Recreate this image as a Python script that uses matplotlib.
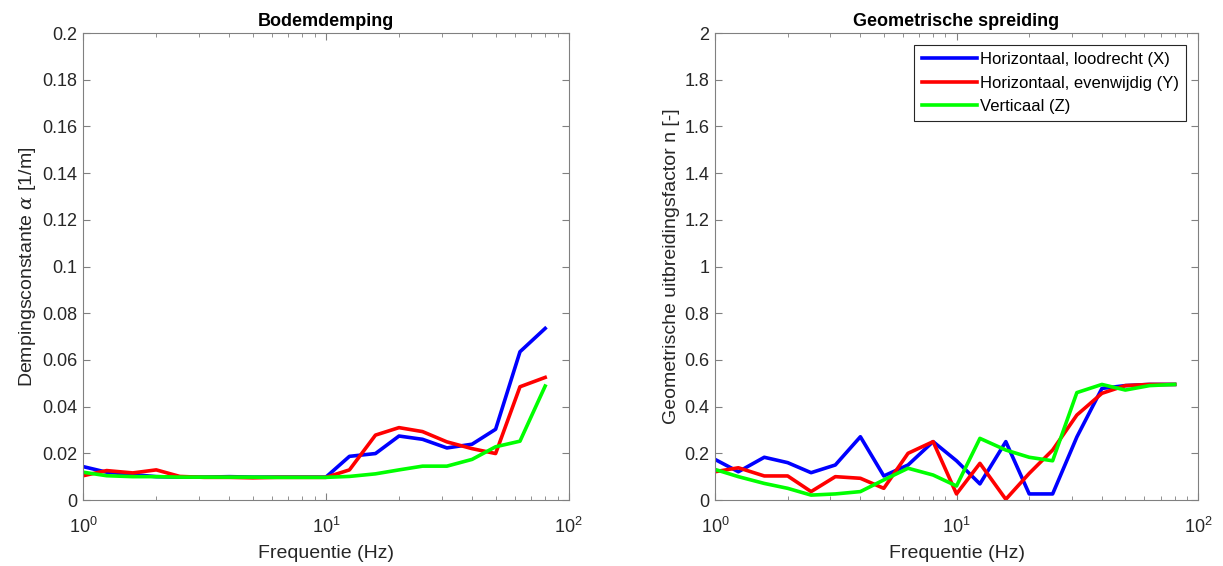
import matplotlib.pyplot as plt
import numpy as np
from matplotlib.ticker import FuncFormatter, LogLocator

freq = [1, 1.25, 1.6, 2, 2.5, 3.15, 4, 5, 6.3, 8, 10, 12.5, 16, 20, 25, 31.5, 40, 50, 63, 80]

# Bodemdemping
alpha_x = [0.0143, 0.0119, 0.0109, 0.0100, 0.0098, 0.0098, 0.0100, 0.0098, 0.0098, 0.0098, 0.0098,
           0.0187, 0.0199, 0.0274, 0.0260, 0.0223, 0.0239, 0.0303, 0.0635, 0.0735]
alpha_y = [0.0104, 0.0126, 0.0116, 0.0129, 0.0101, 0.0097, 0.0097, 0.0095, 0.0097, 0.0097, 0.0097,
           0.0129, 0.0278, 0.0310, 0.0293, 0.0249, 0.0220, 0.0199, 0.0485, 0.0525]
alpha_z = [0.0119, 0.0104, 0.0100, 0.0100, 0.0098, 0.0098, 0.0098, 0.0098, 0.0097, 0.0097, 0.0097,
           0.0101, 0.0112, 0.0129, 0.0145, 0.0145, 0.0174, 0.0228, 0.0252, 0.0488]

# Geometrische spreiding
n_x = [0.174, 0.121, 0.183, 0.160, 0.117, 0.150, 0.271, 0.103, 0.150, 0.250, 0.168,
       0.069, 0.250, 0.026, 0.026, 0.270, 0.478, 0.490, 0.495, 0.495]
n_y = [0.121, 0.138, 0.103, 0.103, 0.036, 0.100, 0.093, 0.050, 0.200, 0.250, 0.026,
       0.157, 0.003, 0.114, 0.214, 0.364, 0.457, 0.490, 0.495, 0.495]
n_z = [0.131, 0.100, 0.071, 0.050, 0.021, 0.026, 0.036, 0.086, 0.136, 0.107, 0.060,
       0.264, 0.214, 0.183, 0.168, 0.460, 0.495, 0.471, 0.490, 0.495]

labels = ['Horizontaal, loodrecht (X)', 'Horizontaal, evenwijdig (Y)', 'Verticaal (Z)']
colors = ['#0000ff', '#ff0000', '#00ff00']

plt.rcParams['font.family'] = ['Liberation Sans', 'DejaVu Sans']
plt.rcParams['mathtext.fontset'] = 'dejavuserif'
txt = '#262626'
axc = '#808080'

fig = plt.figure(figsize=(12.23, 5.66), dpi=100)
ax1 = fig.add_axes([0.068, 0.1166, 0.397, 0.825])
ax2 = fig.add_axes([0.5846, 0.1166, 0.395, 0.825])


def style(ax, ymax, ystep):
    ax.set_xscale('log')
    ax.set_xlim(1, 100)
    ax.set_ylim(0, ymax)
    ax.set_yticks(np.arange(0, ymax + ystep / 2, ystep))
    ax.yaxis.set_major_formatter(FuncFormatter(lambda v, p: '%g' % round(v, 4)))
    ax.xaxis.set_minor_locator(LogLocator(base=10, subs=np.arange(2, 10)))
    ax.tick_params(which='both', direction='in', top=True, right=True, colors=axc,
                   labelcolor=txt, labelsize=13)
    ax.tick_params(which='major', length=5)
    ax.tick_params(which='minor', length=3)
    ax.tick_params(axis='x', which='major', pad=12)
    ax.tick_params(axis='y', pad=4)
    for s in ax.spines.values():
        s.set_color(axc)
    ax.set_xlabel('Frequentie (Hz)', fontsize=14, color=txt, labelpad=6)


for ys, lab, c in zip([alpha_x, alpha_y, alpha_z], labels, colors):
    ax1.plot(freq, ys, color=c, lw=2.6, label=lab)
style(ax1, 0.2, 0.02)
ax1.set_ylabel(r'Dempingsconstante $\alpha$ [1/m]', fontsize=14, color=txt, labelpad=3)
ax1.set_title('Bodemdemping', fontsize=13, fontweight='bold', color='black', pad=5)

for ys, lab, c in zip([n_x, n_y, n_z], labels, colors):
    ax2.plot(freq, ys, color=c, lw=2.6, label=lab)
style(ax2, 2, 0.2)
ax2.set_ylabel('Geometrische uitbreidingsfactor n [-]', fontsize=14, color=txt, labelpad=3)
ax2.set_title('Geometrische spreiding', fontsize=13, fontweight='bold', color='black', pad=5)
leg = ax2.legend(loc='upper right', fontsize=12, fancybox=False, framealpha=1,
                 handlelength=3.3, handletextpad=0.2, borderpad=0.45, labelspacing=0.5,
                 borderaxespad=0.7)
leg.get_frame().set_edgecolor('#262626')
leg.get_frame().set_linewidth(0.8)

fig.savefig('out.png', dpi=100)
